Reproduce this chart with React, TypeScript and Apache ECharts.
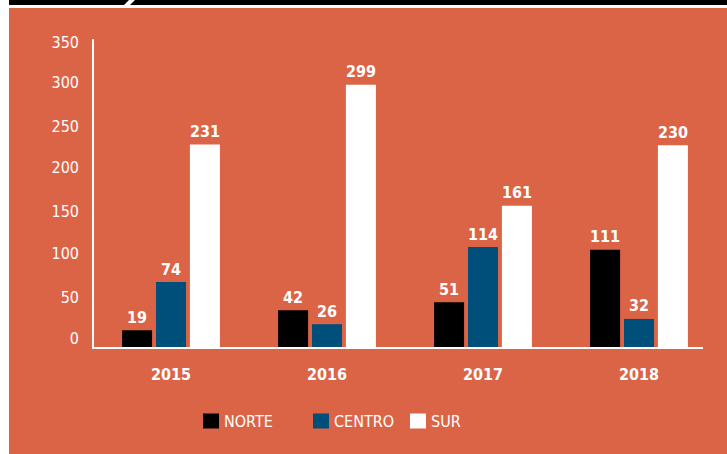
import React, { useEffect, useRef } from "react";
import * as echarts from "echarts";

const categories = ["2015", "2016", "2017", "2018"];
const norte = [19, 42, 51, 111];
const centro = [74, 26, 114, 32];
const sur = [231, 299, 161, 230];
const seriesNames = ["NORTE", "CENTRO", "SUR"];
const yTicks = { min: 0, max: 350, interval: 50 };
// upward nudge (px) of each tick label, as in the reference artwork
const tickNudge: Record<number, number> = { 0: 9, 50: 6, 100: 6, 150: 4, 200: 4, 250: 1, 300: 1, 350: -2 };

const ORANGE = "#DC6446";
const BLUE = "#004F7A";
const FONT = "'Liberation Sans Narrow', 'DejaVu Sans Condensed', 'Roboto', sans-serif";

export default function App() {
  const ref = useRef<HTMLDivElement>(null);
  useEffect(() => {
    if (!ref.current) return;
    const chart = echarts.init(ref.current, undefined, { renderer: "svg" });
    const valueLabel = {
      show: true,
      position: "top",
      distance: 5,
      color: "#fff",
      fontFamily: FONT,
      fontWeight: "bold",
      fontSize: 16,
    };
    const mkSeries = (name: string, data: number[], color: string) => ({
      name,
      type: "bar",
      data,
      barWidth: 30,
      barGap: "13%",
      itemStyle: { color },
      label: valueLabel,
    });
    const legendBase = {
      top: 413,
      padding: 0,
      itemWidth: 16,
      itemHeight: 15,
      icon: "rect",
      textStyle: { color: "#fff", fontFamily: FONT, fontSize: 16 },
    };
    const rich: Record<string, any> = {};
    Object.keys(tickNudge).forEach((k) => {
      const n = tickNudge[Number(k)];
      rich["t" + k] = {
        color: "#fff",
        fontFamily: FONT,
        fontSize: 16,
        padding: n >= 0 ? [0, 0, 2 * n, 0] : [-2 * n, 0, 0, 0],
      };
    });
    chart.setOption({
      animation: false,
      backgroundColor: "#fff",
      graphic: [
        { type: "rect", z: -10, shape: { x: 9, y: 0, width: 718, height: 5 }, style: { fill: "#000" } },
        { type: "polygon", z: -9, shape: { points: [[129, 0], [135, 0], [130, 5], [124, 5]] }, style: { fill: "#fff" } },
        { type: "rect", z: -10, shape: { x: 9, y: 8, width: 718, height: 446 }, style: { fill: ORANGE } },
        { type: "line", z: 5, shape: { x1: 92, y1: 348, x2: 703, y2: 348 }, style: { stroke: "#fff", lineWidth: 2 } },
      ],
      grid: { left: 93, top: 40, bottom: 107, width: 624, containLabel: false },
      xAxis: {
        type: "category",
        data: categories,
        axisLine: { show: false },
        axisTick: { show: false },
        axisLabel: { color: "#fff", fontFamily: FONT, fontWeight: "bold", fontSize: 16, margin: 19 },
      },
      yAxis: {
        type: "value",
        min: yTicks.min,
        max: yTicks.max,
        interval: yTicks.interval,
        splitLine: { show: false },
        axisTick: { show: false },
        axisLine: { show: true, lineStyle: { color: "#fff", width: 2 } },
        axisLabel: {
          color: "#fff",
          fontFamily: FONT,
          fontSize: 16,
          margin: 14,
          formatter: (v: number) => (tickNudge[v] !== undefined ? `{t${v}|${v}}` : String(v)),
          rich,
        },
      },
      legend: [
        { ...legendBase, left: 203, data: [seriesNames[0]] },
        { ...legendBase, left: 313, data: [seriesNames[1]] },
        { ...legendBase, left: 410, data: [seriesNames[2]] },
      ],
      series: [
        mkSeries(seriesNames[0], norte, "#000"),
        mkSeries(seriesNames[1], centro, BLUE),
        mkSeries(seriesNames[2], sur, "#fff"),
      ],
    });
    return () => chart.dispose();
  }, []);
  return (
    <div
      ref={ref}
      style={{ position: "fixed", left: 0, top: 0, width: 727, height: 454 }}
    />
  );
}
